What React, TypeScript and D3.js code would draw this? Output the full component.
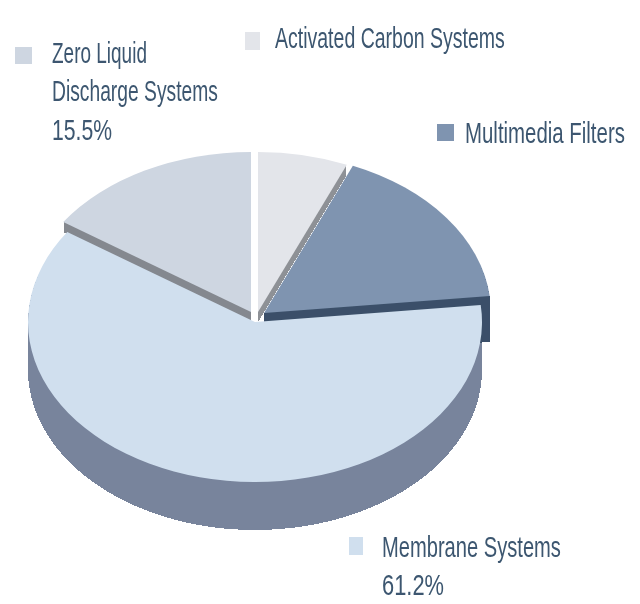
import * as d3 from "d3";
import { useEffect, useRef } from "react";

// order is clockwise from 12 o'clock
const categories = ["Activated Carbon Systems", "Multimedia Filters", "Membrane Systems", "Zero Liquid Discharge Systems"];
const shares = [6.4, 16.9, 61.2, 15.5];

const topColors = ["#e3e5ea", "#7f94b0", "#d0dfee", "#ced6e1"];
const wallColors = ["#8e9196", "#3b5069", "#78849c", "#84888f"];
const offsets = [[258, 312], [264, 313], [255, 322], [251, 312]];
const wallDepths = [10, 46, 48, 10];

const legendLines = [
  ["Activated Carbon Systems"],
  ["Multimedia Filters"],
  ["Membrane Systems", "61.2%"],
  ["Zero Liquid", "Discharge Systems", "15.5%"],
];
const legendBoxes = [[245, 32, 15, 18], [437, 124, 17, 17], [349, 537, 14, 18], [15, 47, 17, 17]];
const legendText = [[275, 48], [465, 143], [382, 557], [52, 63]];
const lineWidths = [[230], [160], [179, 62], [95, 166, 60]];

const rx = 227;
const ry = 160;
const lineGap = 38.5;
const textColor = "#3c5770";

export default function App() {
  const ref = useRef<SVGSVGElement | null>(null);

  const pie = d3.pie<number>().sort(null).value((d) => d);
  const arcs = pie(shares);
  const arc = d3.arc<d3.PieArcDatum<number>>().innerRadius(0).outerRadius(rx);
  const scaleY = ry / rx;

  const wedge = (i: number, dy: number) => (
    <path
      key={`${i}-${dy}`}
      d={arc(arcs[i]) ?? ""}
      transform={`translate(${offsets[i][0]},${offsets[i][1] + dy}) scale(1,${scaleY})`}
      fill={dy === 0 ? topColors[i] : wallColors[i]}
      shapeRendering={dy === 0 ? "auto" : "crispEdges"}
    />
  );
  const wall = (i: number) => <g>{d3.range(wallDepths[i], 0, -1).map((dy) => wedge(i, dy))}</g>;

  // squeeze each label sideways to the width it has in the picture
  useEffect(() => {
    d3.select(ref.current)
      .selectAll<SVGTextElement, unknown>("text")
      .attr("transform", function () {
        const x = +(this.getAttribute("x") ?? 0);
        const y = +(this.getAttribute("y") ?? 0);
        const target = +(this.getAttribute("data-width") ?? 0);
        const k = target / this.getComputedTextLength();
        return `translate(${x},${y}) scale(${k},1) translate(${-x},${-y})`;
      });
  }, []);

  return (
    <svg
      ref={ref}
      width={640}
      height={604}
      style={{ position: "absolute", left: 0, top: 0, background: "#fff" }}
    >
      <defs>
        <filter id="soft" x="-5%" y="-5%" width="110%" height="110%">
          <feGaussianBlur stdDeviation="0.6" />
        </filter>
      </defs>
      <g filter="url(#soft)">
        {wall(2)}
        {wall(3)}
        {wall(0)}
        {wall(1)}
        {wedge(2, 0)}
        {wedge(3, 0)}
        {wedge(0, 0)}
        {wedge(1, 0)}
        {categories.map((c, i) => (
          <g key={c}>
            <rect x={legendBoxes[i][0]} y={legendBoxes[i][1]} width={legendBoxes[i][2]} height={legendBoxes[i][3]} fill={topColors[i]} />
            {legendLines[i].map((line, j) => (
              <text
                key={line}
                x={legendText[i][0]}
                y={legendText[i][1] + j * lineGap}
                data-width={lineWidths[i][j]}
                fontFamily="'Liberation Sans Narrow', 'Liberation Sans', sans-serif"
                fontSize={29}
                fill={textColor}
              >
                {line}
              </text>
            ))}
          </g>
        ))}
      </g>
    </svg>
  );
}
